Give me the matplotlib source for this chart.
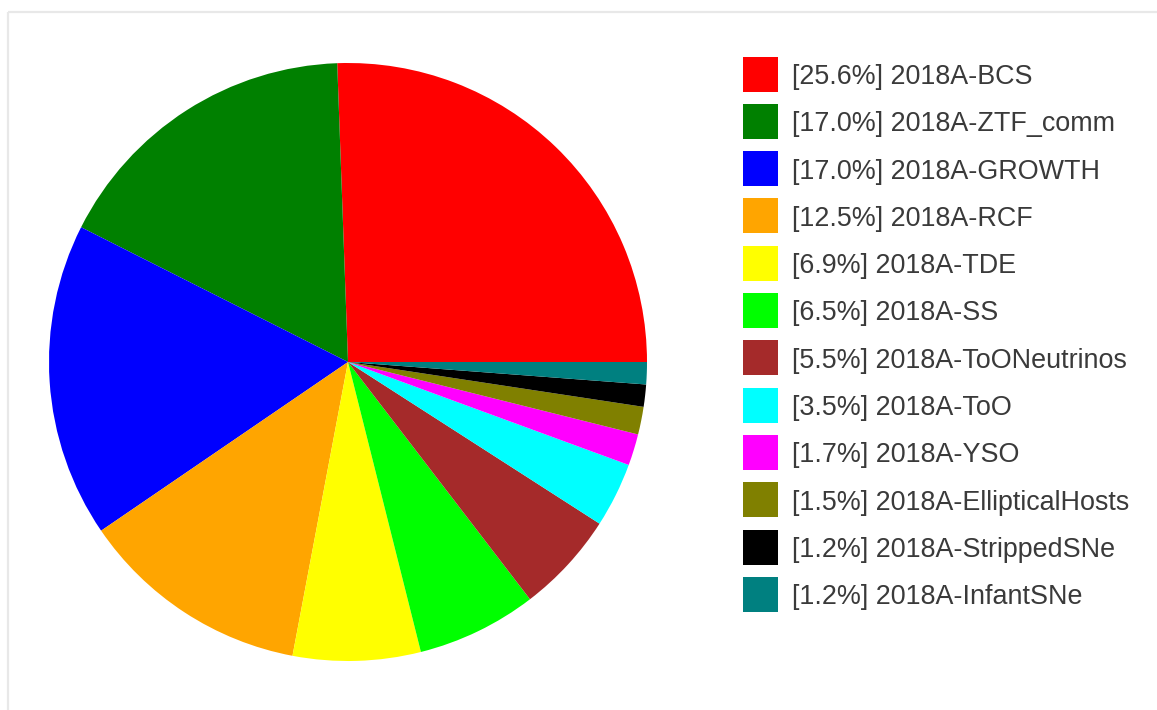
import matplotlib.pyplot as plt
from matplotlib.patches import Rectangle

W, H = 1157, 710

programs = ['2018A-BCS', '2018A-ZTF_comm', '2018A-GROWTH', '2018A-RCF',
            '2018A-TDE', '2018A-SS', '2018A-ToONeutrinos', '2018A-ToO',
            '2018A-YSO', '2018A-EllipticalHosts', '2018A-StrippedSNe',
            '2018A-InfantSNe']
shares = [25.6, 17.0, 17.0, 12.5, 6.9, 6.5, 5.5, 3.5, 1.7, 1.5, 1.2, 1.2]
colors = ['#ff0000', '#008000', '#0000ff', '#ffa500', '#ffff00', '#00ff00',
          '#a52a2a', '#00ffff', '#ff00ff', '#808000', '#000000', '#008080']

plt.rcParams['font.family'] = ['Liberation Sans', 'DejaVu Sans']

fig = plt.figure(figsize=(W / 100, H / 100), dpi=100)

# pie: centre (348, 362) px, radius ~299 px
cx, cy, r = 348, 362, 299
ax = fig.add_axes([(cx - r) / W, (H - cy - r) / H, 2 * r / W, 2 * r / H])
ax.pie(shares, colors=colors, startangle=0, counterclock=True,
       wedgeprops=dict(linewidth=0))
ax.set_xlim(-1, 1)
ax.set_ylim(-1, 1)
ax.set_aspect('equal')
ax.axis('off')

# overlay in pixel coords for the frame and the legend
ov = fig.add_axes([0, 0, 1, 1], zorder=-1)
ov.set_xlim(0, W)
ov.set_ylim(H, 0)
ov.axis('off')
ov.plot([8, W], [12, 12], color='#e8e8e8', lw=1.6, solid_capstyle='butt')
ov.plot([8, 8], [12, H], color='#e8e8e8', lw=1.6, solid_capstyle='butt')

lg = fig.add_axes([0, 0, 1, 1])
lg.set_xlim(0, W)
lg.set_ylim(H, 0)
lg.axis('off')
y0, step, sq = 74, 47.3, 35
for i, (name, pct, c) in enumerate(zip(programs, shares, colors)):
    y = y0 + i * step
    lg.add_patch(Rectangle((743, y - sq / 2), sq, sq, facecolor=c, edgecolor='none'))
    lg.text(792, y, f'[{pct:.1f}%] {name}', fontsize=19.4, color='#3a3a3a',
            va='center_baseline', ha='left')

fig.savefig('out.png', dpi=100)
